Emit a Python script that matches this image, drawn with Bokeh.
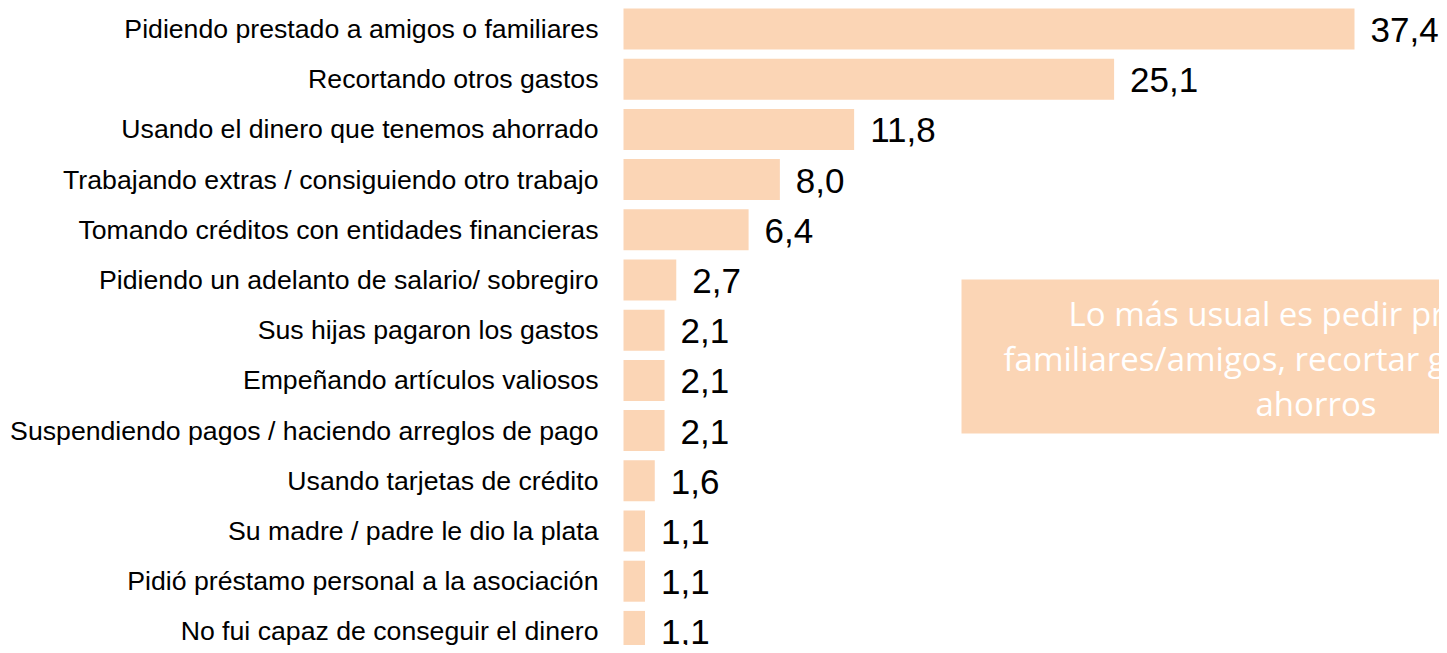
from bokeh.plotting import figure
from bokeh.models import Range1d, ColumnDataSource
from bokeh.core.properties import value
from bokeh.embed import file_html
from bokeh.resources import INLINE

categories = [
    "Pidiendo prestado a amigos o familiares",
    "Recortando otros gastos",
    "Usando el dinero que tenemos ahorrado",
    "Trabajando extras / consiguiendo otro trabajo",
    "Tomando créditos con entidades financieras",
    "Pidiendo un adelanto de salario/ sobregiro",
    "Sus hijas pagaron los gastos",
    "Empeñando artículos valiosos",
    "Suspendiendo pagos / haciendo arreglos de pago",
    "Usando tarjetas de crédito",
    "Su madre / padre le dio la plata",
    "Pidió préstamo personal a la asociación",
    "No fui capaz de conseguir el dinero",
]
values = [37.4, 25.1, 11.8, 8.0, 6.4, 2.7, 2.1, 2.1, 2.1, 1.6, 1.1, 1.1, 1.1]
note_lines = [
    "Lo más usual es pedir préstamo a",
    "familiares/amigos, recortar gastos o usar",
    "ahorros",
]

W, H = 1439, 645
PX_X = 731 / 37.4          # pixels per unit on x
ZERO_X = 623               # frame px where value 0 sits
ROW = 50.2                 # row pitch in px
FIRST = 28.5               # first row centre in frame px

x_start = -ZERO_X / PX_X
x_end = x_start + W / PX_X
y_top = -FIRST / ROW
y_bottom = (H - FIRST) / ROW

def dx(px):
    return px / PX_X + x_start

def dy(py):
    return py / ROW + y_top

BAR = "#FBD5B5"

src = ColumnDataSource(dict(
    y=list(range(len(categories))),
    v=values,
    cat=categories,
    lab=[f"{v:.1f}".replace(".", ",") for v in values],
    zero=[0] * len(values),
))

p = figure(width=W, height=H, output_backend="svg", toolbar_location=None,
           x_range=Range1d(x_start, x_end), y_range=Range1d(y_bottom, y_top),
           min_border=0)
p.axis.visible = False
p.grid.visible = False
p.outline_line_color = None
p.background_fill_color = "white"
p.border_fill_color = "white"

p.hbar(y="y", left=0, right="v", height=41 / ROW, source=src,
       fill_color=BAR, line_color=None)

p.text(x="zero", y="y", text="cat", source=src, x_offset=-25,
       text_align="right", text_baseline="middle",
       text_font=value("Liberation Sans"), text_font_size="26.67px",
       text_color="#000000")

p.text(x="v", y="y", text="lab", source=src, x_offset=16, y_offset=1,
       text_align="left", text_baseline="middle",
       text_font=value("Liberation Sans"), text_font_size="35px",
       text_color="#000000")

# note box
p.quad(left=[dx(961)], right=[dx(1700)], top=[dy(279)], bottom=[dy(433)],
       fill_color=BAR, line_color=None)
starts = [1068, 1003, 1255]
centers = [313, 358, 403]
p.text(x=[dx(s) for s in starts], y=[dy(c) for c in centers], text=note_lines,
       text_align="left", text_baseline="middle",
       text_font=value("Open Sans"), text_font_size="33px",
       text_color="#FFFFFF")

open("out.html", "w").write(file_html(p, INLINE))
